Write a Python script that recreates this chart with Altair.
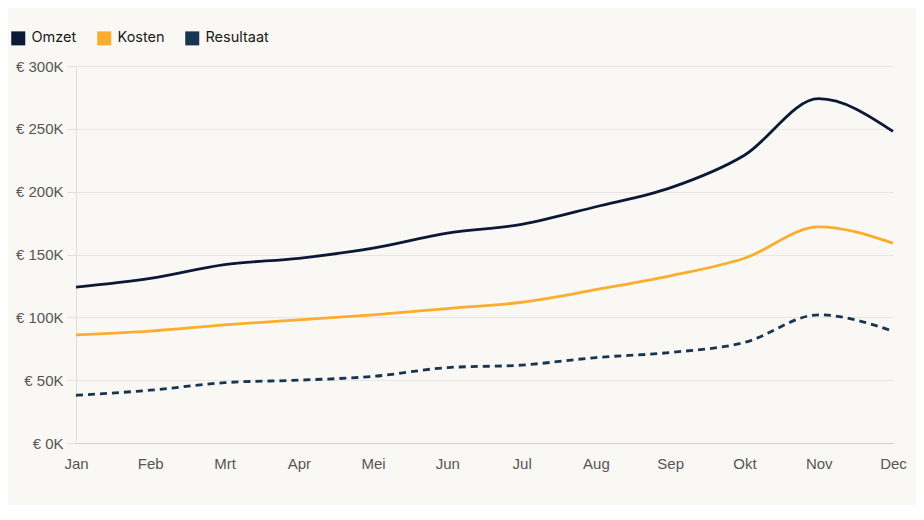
import altair as alt
import pandas as pd

months = ["Jan", "Feb", "Mrt", "Apr", "Mei", "Jun", "Jul", "Aug", "Sep", "Okt", "Nov", "Dec"]
omzet = [124, 131, 142, 147, 155, 167, 174, 188, 203, 229, 274, 248]
kosten = [86, 89, 94, 98, 102, 107, 112, 122, 133, 147, 172, 159]
resultaat = [38, 42, 48, 50, 53, 60, 62, 68, 72, 80, 102, 89]

series = ["Omzet", "Kosten", "Resultaat"]
colors = ["#0b1836", "#fbad2b", "#173450"]

rows = []
for name, vals in zip(series, [omzet, kosten, resultaat]):
    for m, v in zip(months, vals):
        rows.append({"maand": m, "serie": name, "waarde": v * 1000})
df = pd.DataFrame(rows)

x = alt.X("maand:N", sort=months, title=None,
          scale=alt.Scale(type="point", padding=0),
          axis=alt.Axis(labelAngle=0, ticks=False, labelPadding=13, domainColor="#d0d0d0"))
y = alt.Y("waarde:Q", title=None,
          scale=alt.Scale(domain=[0, 300000]),
          axis=alt.Axis(values=[0, 50000, 100000, 150000, 200000, 250000, 300000],
                        labelExpr="'€ ' + format(datum.value/1000, 'd') + 'K'",
                        tickSize=9, tickColor="#e0e0e0", domainColor="#e0e0e0",
                        gridColor="#e8e6e1", labelPadding=4))
color = alt.Color("serie:N", sort=series, title=None,
                  scale=alt.Scale(domain=series, range=colors),
                  legend=alt.Legend(orient="none", legendX=-65, legendY=-35, direction="horizontal",
                                    symbolType="square", symbolSize=25, symbolStrokeWidth=9,
                                    labelFontSize=14.5, labelColor="#1a1a1a", columnPadding=6,
                                    labelOffset=6))

base = alt.Chart(df).encode(x=x, y=y, color=color)
solid = base.transform_filter("datum.serie != 'Resultaat'").mark_line(
    interpolate="monotone", strokeWidth=2.8)
dashed = base.transform_filter("datum.serie == 'Resultaat'").mark_line(
    interpolate="monotone", strokeWidth=2.8, strokeDash=[7, 5])

chart = alt.layer(solid, dashed).properties(
    width=817, height=377,
    background="#f9f8f5",
    autosize=alt.AutoSizeParams(type="none"),
    padding={"left": 68, "top": 58, "right": 23, "bottom": 62},
).configure_view(stroke=None).configure_axis(
    labelFont="Liberation Sans", labelFontSize=15, labelColor="#555555"
).configure_legend(labelFont="Inter")

chart.save("out.html", embed_options={"renderer": "svg", "actions": False})
